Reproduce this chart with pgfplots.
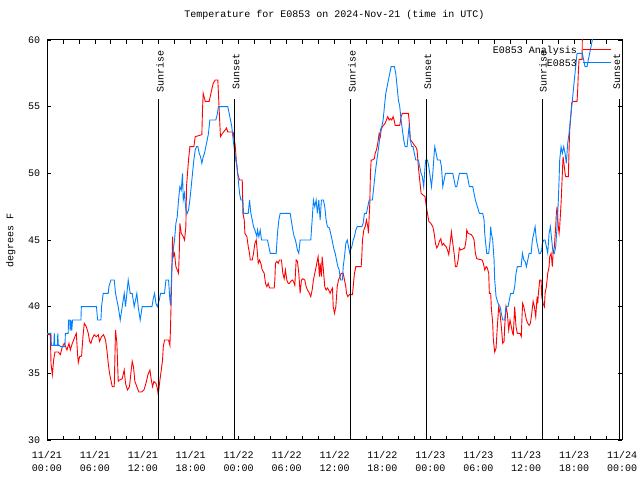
\documentclass[border=0pt]{standalone}
\usepackage{fontspec}
\setmainfont{Liberation Mono}
\usepackage{pgfplots}
\pgfplotsset{compat=1.18}
\definecolor{anablue}{RGB}{0,128,255}
\definecolor{obsred}{RGB}{255,0,0}
\begin{document}
\fontsize{10bp}{13bp}\selectfont
\begin{tikzpicture}
\useasboundingbox (0,0) rectangle (640bp,480bp);
\begin{axis}[
  at={(47bp,40bp)}, anchor=south west,
  scale only axis, width=575bp, height=400bp,
  xmin=0, xmax=72, ymin=30, ymax=60,
  xtick={0,6,...,72},
  minor x tick num=2,
  xticklabels={{11/21\\00:00},{11/21\\06:00},{11/21\\12:00},{11/21\\18:00},{11/22\\00:00},{11/22\\06:00},{11/22\\12:00},{11/22\\18:00},{11/23\\00:00},{11/23\\06:00},{11/23\\12:00},{11/23\\18:00},{11/24\\00:00}},
  ytick={30,35,...,60},
  tick align=inside,
  major tick length=4bp, minor tick length=4bp,
  every tick/.style={black, line width=0.8bp},
  axis line style={black, line width=1bp},
  /pgf/number format/assume math mode=true,
  xticklabel style={align=center, font=\fontsize{10bp}{13bp}\selectfont, yshift=-7.5bp},
  yticklabel style={font=\fontsize{10bp}{13bp}\selectfont, xshift=-3.3bp},
  title={Temperature for E0853 on 2024-Nov-21 (time in UTC)},
  title style={at={(axis description cs:0.5,1)}, anchor=base, yshift=16.7bp, font=\fontsize{10bp}{13bp}\selectfont},
  ylabel={degrees F},
  every axis y label/.style={at={(axis description cs:-0.0628,0.5)}, rotate=90, anchor=center, font=\fontsize{10bp}{13bp}\selectfont},
  legend cell align=right,
  legend style={legend plot pos=right, draw=none, fill=none, inner sep=0pt,
    at={(axis description cs:0.9817,0.988)}, anchor=north east,
    font=\fontsize{10bp}{13bp}\selectfont,
    nodes={inner sep=1.5bp, text height=7.5bp, text depth=2.5bp}},
  legend image code/.code={\path (0bp,0bp); \draw[#1] (3.7bp,2.5bp) -- (32bp,2.5bp);},
  clip=true,
]
\addplot[obsred, line width=0.9bp] coordinates {
(0,37.9) (0.42,37.9) (0.5,35.75) (0.67,34.9) (0.83,36) (1.0,36.6) (1.42,36.6) (1.67,36.4) (1.92,37) (2.17,37.25) (2.5,36.75) (2.75,37.25) (2.92,36.75) (3.17,37.25) (3.5,37.75) (3.67,38) (3.83,36.4) (3.92,35.8) (4.08,36.25) (4.33,36.3) (4.5,37.75) (4.67,38.75) (4.92,38.5) (5.17,38) (5.33,37.4) (5.5,37.25) (5.67,37.6) (5.92,37.9) (6.17,37.75) (6.42,37.9) (6.58,37.4) (6.83,37.75) (7.08,37.9) (7.33,37.5) (7.5,36.75) (7.67,35.75) (7.83,35) (8.0,34.5) (8.17,34) (8.42,34) (8.58,38.25) (8.75,37.25) (8.92,34.4) (9.08,34.5) (9.42,34.6) (9.67,35.25) (9.83,34.25) (10.08,33.75) (10.33,34) (10.5,35) (10.67,35.9) (10.83,35.5) (11.0,34.4) (11.25,34) (11.5,33.6) (11.83,33.6) (12.14,33.75) (12.39,34.25) (12.64,34.9) (12.89,35.25) (13.06,34.5) (13.22,34) (13.39,34.4) (13.64,34.25) (13.81,33.9) (13.93,33.4) (14.14,34.5) (14.31,35.25) (14.47,36) (14.56,37) (14.72,37.5) (15.22,37.5) (15.39,37.1) (15.47,38.5) (15.56,40.75) (15.64,43) (15.72,45.25) (15.81,43.75) (15.97,44) (16.14,43) (16.31,42.75) (16.47,42.5) (16.56,44) (16.64,46.25) (16.81,45.5) (17.06,45.25) (17.22,45) (17.39,46) (17.47,49) (17.72,51) (17.89,52) (18.39,52) (18.56,52.75) (19.39,52.9) (19.47,54.75) (19.56,56) (19.81,55.4) (20.31,55.4) (20.56,56.1) (20.81,56.75) (21.06,57) (21.39,57) (21.56,54.75) (21.72,52.75) (21.97,53) (22.31,53.25) (22.47,53.4) (22.64,53.1) (23.31,53.1) (23.43,52.5) (23.55,52.2) (23.7,51) (23.86,50) (24.11,49.5) (24.45,49.5) (24.53,47) (24.7,46.5) (24.78,45.5) (25.03,45.25) (25.2,44.5) (25.36,44) (25.45,43.5) (25.7,43.5) (25.86,44) (26.03,44.75) (26.2,45) (26.28,44.5) (26.45,43.25) (26.61,43.5) (26.78,43.25) (26.95,42.75) (27.2,42.5) (27.36,41.75) (27.53,41.5) (27.7,41.75) (27.86,41.4) (28.45,41.4) (28.53,42) (28.61,43.25) (28.78,43.4) (28.95,43.25) (29.11,43.5) (29.36,43.5) (29.53,42.5) (29.7,42.1) (29.86,42.75) (30.03,42) (30.2,41.75) (30.36,41.75) (30.53,41.9) (30.7,42) (30.86,41.9) (31.03,41.6) (31.2,43.5) (31.36,43.4) (31.53,42.5) (31.7,41) (31.86,42) (32.03,42.1) (32.28,42) (32.45,41.5) (32.61,41.25) (32.86,41) (33.03,40.75) (33.2,41.25) (33.36,42) (33.53,42.5) (33.7,43) (33.86,43.5) (33.95,43.75) (34.11,42.25) (34.2,43.25) (34.36,42.25) (34.45,43.75) (34.61,42.75) (34.78,41.5) (34.95,41.25) (35.11,41.4) (35.28,41.25) (35.45,41) (35.61,41.25) (35.75,41.4) (35.84,40) (36.0,39.5) (36.17,40) (36.34,41.5) (36.5,42) (36.67,42.25) (36.84,42.5) (37.09,42.5) (37.25,42) (37.42,41.5) (37.5,41) (37.67,40.75) (37.84,40.9) (38.25,40.9) (38.34,41.5) (38.5,42.5) (38.67,43) (39.34,43) (39.42,43.75) (39.5,45) (39.67,45.75) (39.84,46) (40.0,46.5) (40.17,46) (40.25,45.5) (40.34,46.75) (40.42,47.75) (40.5,50) (40.59,51) (40.75,51) (41.0,51.1) (41.09,51.5) (41.25,51.75) (41.42,52.25) (41.59,53) (41.75,52.75) (41.84,53.25) (42.0,53.5) (42.34,53.75) (42.5,54) (42.67,54.25) (42.84,54) (43.0,54.1) (43.17,54) (43.34,54.25) (43.5,53.9) (43.59,53.6) (44.17,53.6) (44.34,54.25) (44.5,54.5) (45.25,54.5) (45.34,54) (45.5,52.5) (45.67,52.4) (45.84,52.25) (46.0,52.1) (46.17,52) (46.34,51.75) (46.5,50.5) (46.67,49.5) (46.84,48.5) (47.34,48.25) (47.5,47.5) (47.64,47) (47.81,46.4) (48.06,46.25) (48.31,46) (48.48,45.5) (48.64,44.75) (48.81,44.4) (48.98,44.6) (49.14,44.9) (49.31,45.1) (49.48,44.6) (49.64,44.75) (49.81,44.6) (49.98,44.5) (50.14,44.25) (50.31,43.9) (50.48,44.75) (50.64,45.6) (50.81,44.75) (50.98,44) (51.14,43) (51.31,43) (51.48,43.5) (51.64,44.4) (51.81,44.25) (52.31,44.4) (52.48,45) (52.56,45.75) (52.73,45.5) (53.14,45.4) (53.31,45.25) (53.48,45) (53.64,44) (53.81,43.6) (54.48,43.5) (54.64,43.25) (54.81,42.75) (54.98,43) (55.14,42.9) (55.31,42.5) (55.39,41) (55.56,41) (55.64,39.9) (55.81,38.75) (55.89,37.5) (56.06,36.6) (56.23,36.9) (56.39,38.5) (56.56,40) (56.73,39.5) (56.89,38.5) (57.06,37.25) (57.23,37.4) (57.31,38.5) (57.48,40) (57.64,39.5) (57.81,38.25) (57.98,39) (58.14,38.5) (58.31,38) (58.39,37.9) (58.56,40) (58.73,38.5) (58.89,38) (59.23,38) (59.39,37.75) (59.48,39.25) (59.56,40.25) (59.7,40) (59.87,39.5) (60.03,39) (60.2,38.75) (60.37,38.6) (60.53,38.75) (60.7,39.5) (60.87,40.4) (61.03,40) (61.2,39.25) (61.37,40.75) (61.45,40.25) (61.53,41) (61.7,42) (61.87,42) (61.95,40.75) (62.12,40.25) (62.28,40) (62.37,41) (62.53,41.5) (62.7,42.5) (62.87,43) (62.95,43.75) (63.12,44) (63.28,43) (63.37,44) (63.53,44.5) (63.7,46) (63.78,47) (63.87,47.5) (64.03,46) (64.12,45.5) (64.2,46) (64.37,47.75) (64.53,50) (64.62,51.25) (64.78,50.5) (64.87,50) (64.95,49.75) (65.28,49.75) (65.37,51.75) (65.45,53.25) (65.62,54.5) (65.7,55.25) (65.87,55.4) (66.37,55.4) (66.45,56.25) (66.53,57.5) (66.62,58.55) (67.0,58.55) (67.05,61)
};
\addlegendentry{E0853 Analysis}
\addplot[anablue, line width=0.9bp] coordinates {
(0,38) (0.5,38) (0.55,37.1) (0.85,37.1) (0.92,38) (0.98,37.1) (1.3,37.1) (1.35,38) (1.42,37.1) (1.6,37.1) (1.65,37) (2.25,37) (2.3,38) (2.65,38) (2.7,39) (2.85,39) (2.9,38.2) (3.0,39) (3.1,38.2) (3.2,39) (4.25,39) (4.3,40) (6.2,40) (6.33,39) (6.75,39) (6.83,40) (7.04,41) (7.67,41) (7.75,41.5) (8.0,42) (8.42,42) (8.58,41) (8.92,40) (9.17,39) (9.42,40) (9.67,41) (9.83,40) (10.0,41) (10.17,42) (10.42,41) (10.67,41) (10.92,40) (11.25,41) (11.42,40) (11.67,39) (11.92,40) (13.14,40) (13.31,40.6) (13.47,41) (13.64,40.25) (13.81,40) (14.06,40.5) (14.22,41) (14.72,41) (14.89,42) (15.22,42) (15.39,40.5) (15.47,40.1) (15.64,43) (15.81,44.25) (15.97,45) (16.14,46.25) (16.31,46.75) (16.47,48) (16.64,49) (16.81,48.75) (16.97,50) (17.06,48) (17.22,48.5) (17.39,47.25) (17.56,47) (17.72,47.25) (17.89,48) (18.06,49) (18.22,50) (18.39,51) (18.56,51.75) (18.72,52) (18.89,52) (19.06,51.5) (19.22,51.25) (19.39,50.75) (19.56,51.25) (19.72,51.5) (19.89,52) (20.06,52.5) (20.22,53) (20.39,54) (21.14,54) (21.31,54.4) (21.47,55) (22.64,55) (22.81,54.5) (22.97,54) (23.14,53.5) (23.31,52.5) (23.47,51.75) (23.64,51) (23.81,50.5) (23.95,49.5) (24.11,48.5) (24.28,48) (24.53,48) (24.61,47) (25.2,47) (25.36,48) (25.53,47) (25.7,46.5) (25.86,46) (26.03,45.75) (26.28,45.25) (26.36,45.75) (26.53,45.25) (26.7,45.75) (26.86,45) (27.61,45) (27.78,44.5) (27.95,44) (28.7,44) (28.86,45.5) (29.03,46.5) (29.2,47) (30.45,47) (30.61,46.4) (30.78,45.75) (30.95,45.25) (31.11,45) (31.36,44.25) (31.53,44) (31.7,45) (33.03,45) (33.2,46.5) (33.36,48) (33.53,47.5) (33.7,48) (33.86,47) (34.03,48) (34.2,46.5) (34.36,48) (34.61,48) (34.78,47.5) (34.95,46.5) (35.11,46) (35.36,45.9) (35.61,45.25) (35.78,44.75) (35.95,44.25) (36.09,44) (36.25,43.5) (36.42,43) (36.59,42.75) (36.75,42) (37.0,42) (37.09,43) (37.25,43.75) (37.42,44.75) (37.59,45) (37.75,44.5) (37.92,44) (38.0,44.25) (38.17,44.5) (38.34,45) (38.5,45.25) (38.67,45.75) (38.84,46) (39.42,46) (39.59,46.25) (39.75,47) (40.0,47) (40.17,47.5) (40.34,48) (40.75,48) (40.92,49) (41.09,50) (41.25,50.75) (41.42,51.5) (41.59,52.25) (41.75,53.25) (41.92,53.5) (42.09,54) (42.25,55) (42.42,56) (42.59,56.5) (42.75,57) (42.92,57.5) (43.09,58) (43.5,58) (43.67,57.5) (43.84,56.5) (44.0,55.5) (44.17,55) (44.34,54) (44.5,53.25) (44.67,52.5) (44.84,52) (45.09,52) (45.25,53) (45.34,53.5) (45.5,52.5) (45.67,52) (45.84,52) (46.0,51.5) (46.17,51) (46.5,51) (46.67,50.5) (46.84,50) (47.0,49.75) (47.17,49) (47.34,50.5) (47.42,51) (47.64,51) (47.81,50.5) (47.98,49.75) (48.14,49) (48.31,50) (48.48,51.5) (48.56,52) (48.73,51.5) (48.89,51) (49.23,51) (49.39,50.5) (49.56,49) (49.73,49.5) (49.89,50) (50.81,50) (50.98,49.5) (51.14,49) (51.31,49) (51.48,49.5) (51.64,50) (52.56,50) (52.73,49.5) (52.89,49) (53.31,49) (53.48,48.5) (53.64,48) (53.89,47.5) (54.14,47) (54.56,47) (54.73,46.5) (54.81,45.5) (54.89,45) (55.06,44) (55.31,44) (55.48,45) (55.56,46) (55.64,45.5) (55.81,45) (55.98,43.5) (56.06,42) (56.23,40.75) (56.48,40.25) (56.73,40) (56.89,39.5) (57.06,39) (57.31,39) (57.48,40) (57.73,40) (57.89,40.5) (58.06,41) (58.39,41) (58.56,41.5) (58.73,42.5) (58.89,43) (59.37,43) (59.53,44) (59.7,43.5) (59.87,43.4) (60.03,43) (60.2,43.5) (60.37,44) (60.62,44) (60.78,45) (60.95,45.5) (61.12,46) (61.28,45) (61.45,44.5) (61.62,44) (61.78,44) (61.95,44.25) (62.03,44.75) (62.2,45) (62.37,45) (62.53,44.5) (62.7,44) (62.87,45.5) (63.03,46) (63.2,45) (63.37,44) (63.53,44) (63.7,44.5) (63.87,46) (64.03,48) (64.12,49.5) (64.2,51) (64.37,52) (64.53,51.5) (64.7,52) (64.87,51.5) (65.03,50.75) (65.2,52.25) (65.37,53) (65.53,54) (65.7,55) (65.87,56) (66.03,57) (66.2,58) (66.37,59) (67.03,59) (67.2,58.5) (67.37,58) (67.62,58) (67.78,58.5) (67.95,59) (68.12,59.5) (68.28,60) (68.6,61.5)
};
\addlegendentry{E0853}
% sunrise / sunset markers
\addplot[black, line width=0.9bp, forget plot] coordinates {(13.93,30) (13.93,55.57)};
\addplot[black, line width=0.9bp, forget plot] coordinates {(23.45,30) (23.45,55.57)};
\addplot[black, line width=0.9bp, forget plot] coordinates {(37.97,30) (37.97,55.57)};
\addplot[black, line width=0.9bp, forget plot] coordinates {(47.5,30) (47.5,55.57)};
\addplot[black, line width=0.9bp, forget plot] coordinates {(61.99,30) (61.99,55.57)};
\addplot[black, line width=0.9bp, forget plot] coordinates {(71.63,30) (71.63,55.57)};
\node[rotate=90, anchor=base, inner sep=0pt] at (axis cs:14.6,57.62) {Sunrise};
\node[rotate=90, anchor=base, inner sep=0pt] at (axis cs:24.1,57.62) {Sunset};
\node[rotate=90, anchor=base, inner sep=0pt] at (axis cs:38.64,57.62) {Sunrise};
\node[rotate=90, anchor=base, inner sep=0pt] at (axis cs:48.1,57.62) {Sunset};
\node[rotate=90, anchor=base, inner sep=0pt] at (axis cs:62.55,57.62) {Sunrise};
\node[rotate=90, anchor=base, inner sep=0pt] at (axis cs:71.75,57.62) {Sunset};
\end{axis}
\end{tikzpicture}
\end{document}
